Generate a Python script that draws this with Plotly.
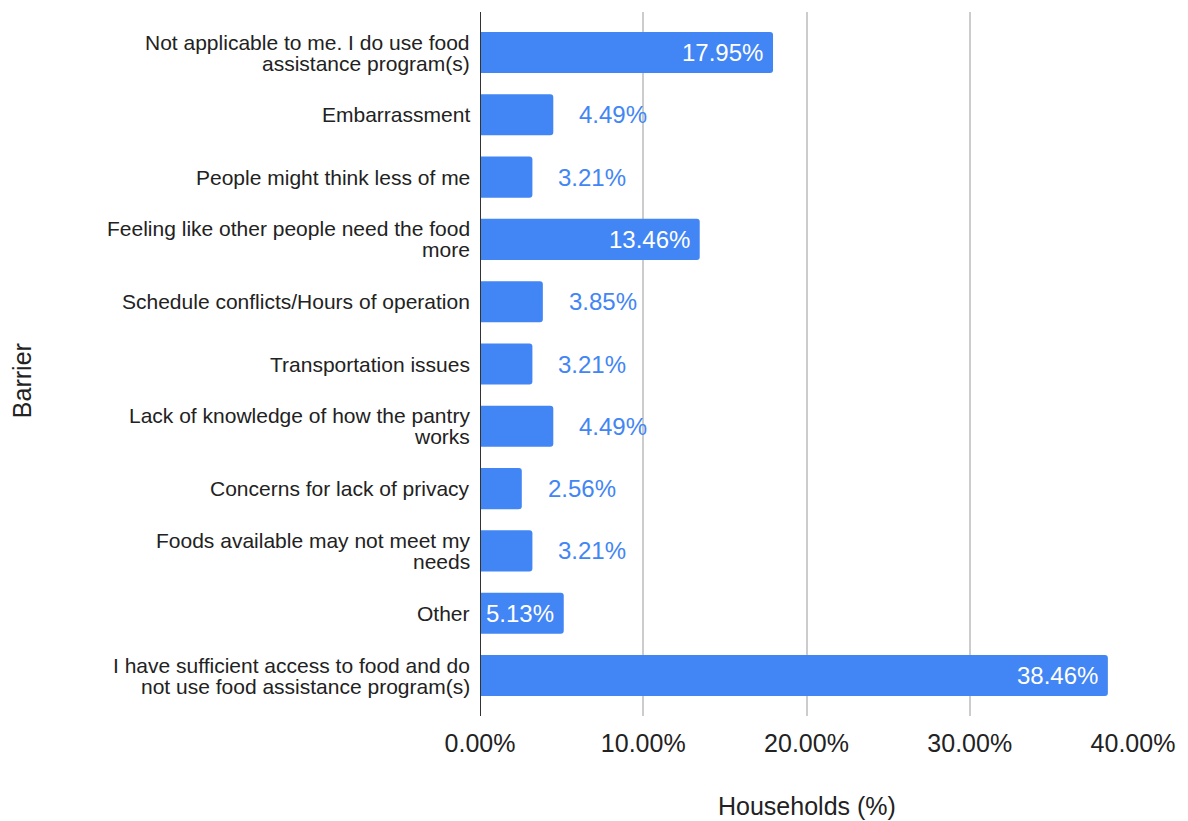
import plotly.graph_objects as go

barriers = [
    "Not applicable to me. I do use food<br>assistance program(s)",
    "Embarrassment",
    "People might think less of me",
    "Feeling like other people need the food<br>more",
    "Schedule conflicts/Hours of operation",
    "Transportation issues",
    "Lack of knowledge of how the pantry<br>works",
    "Concerns for lack of privacy",
    "Foods available may not meet my<br>needs",
    "Other",
    "I have sufficient access to food and do<br>not use food assistance program(s)",
]
households_pct = [17.95, 4.49, 3.21, 13.46, 3.85, 3.21, 4.49, 2.56, 3.21, 5.13, 38.46]

x_ticks = [0, 10, 20, 30, 40]
x_tick_labels = ["0.00%", "10.00%", "20.00%", "30.00%", "40.00%"]

BLUE = "#4285F4"
TEXT = "#222222"
FONT = "Arial, Liberation Sans, sans-serif"

fig = go.Figure(
    go.Bar(
        y=barriers,
        x=households_pct,
        orientation="h",
        marker=dict(color=BLUE, line=dict(width=0)),
        width=0.66,
    )
)

annotations = []

# category labels, right-aligned next to the axis, with tight line spacing
LINE_GAP = 21
for cat in barriers:
    lines = cat.split("<br>")
    n = len(lines)
    for i, line in enumerate(lines):
        annotations.append(dict(
            x=0, y=cat, xref="x", yref="y",
            text=line, showarrow=False,
            xanchor="right", yanchor="middle",
            xshift=-8, yshift=((n - 1) / 2 - i) * LINE_GAP,
            font=dict(family=FONT, size=21, color=TEXT),
        ))

# value labels: inside the bar (white) for long bars, beside it (blue) for short ones
for cat, v in zip(barriers, households_pct):
    inside = v >= 5
    annotations.append(dict(
        x=v, y=cat, xref="x", yref="y",
        text=f"{v:.2f}%",
        showarrow=False,
        xanchor="right" if inside else "left",
        xshift=-8 if inside else 24,
        font=dict(family=FONT, size=24, color="white" if inside else BLUE),
    ))

# axis titles
annotations.append(dict(
    x=0.5008, y=-0.128, xref="paper", yref="paper",
    text="Households (%)", showarrow=False,
    xanchor="center", yanchor="middle",
    font=dict(family=FONT, size=25, color=TEXT),
))
annotations.append(dict(
    x=-0.701, y=0.476, xref="paper", yref="paper",
    text="Barrier", showarrow=False, textangle=-90,
    xanchor="center", yanchor="middle",
    font=dict(family=FONT, size=25, color=TEXT),
))

fig.update_layout(
    width=1188, height=821,
    margin=dict(l=480, r=55, t=12, b=105),
    plot_bgcolor="white", paper_bgcolor="white",
    barcornerradius=3,
    showlegend=False,
    annotations=annotations,
    xaxis=dict(
        range=[0, 40],
        tickvals=x_ticks, ticktext=x_tick_labels,
        showgrid=True, gridcolor="#cccccc", gridwidth=1.5,
        zeroline=False, showline=False,
        ticks="", ticklabelstandoff=10,
        tickfont=dict(family=FONT, size=25, color=TEXT),
        fixedrange=True,
    ),
    yaxis=dict(
        categoryorder="array", categoryarray=barriers,
        range=[len(barriers) - 0.35, -0.65],
        showgrid=False, zeroline=False,
        showline=False, showticklabels=False,
        ticks="",
        fixedrange=True,
    ),
    shapes=[dict(
        type="line", xref="x", yref="paper",
        x0=0, x1=0, y0=0, y1=1,
        line=dict(color="#333333", width=2),
        layer="above",
    )],
)

fig.write_html("out.html")
